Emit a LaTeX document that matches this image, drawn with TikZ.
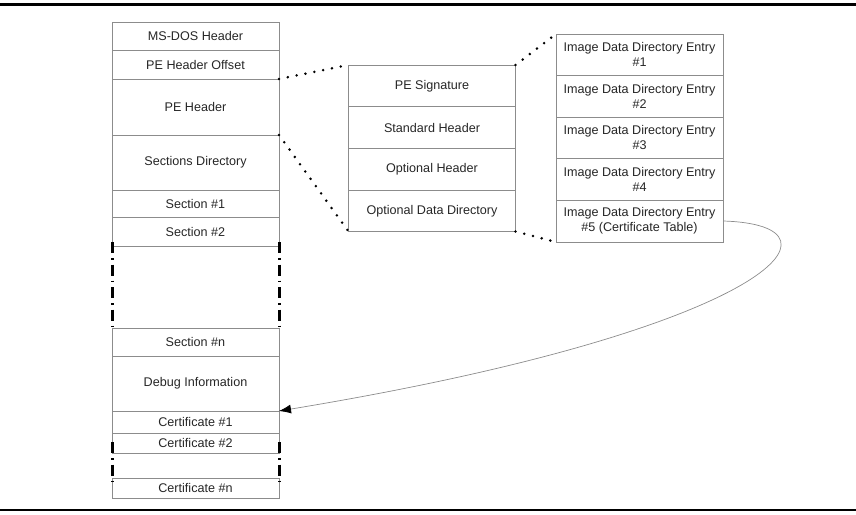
\documentclass[tikz,border=0pt]{standalone}
\usepackage{fontspec}
\setmainfont{Liberation Sans}
\usetikzlibrary{positioning, arrows.meta}
\colorlet{cell line}{black!45}
\colorlet{cell text}{black!85}
\tikzset{cell/.style={draw=cell line, line width=0.8pt, minimum width=167pt, inner sep=0pt, outer sep=0pt, align=center, text=cell text, font=\fontsize{12.6}{15}\selectfont}}
\tikzset{zoomline/.style={line width=2.8pt, line cap=round, dash pattern=on 0pt off 9pt}}
\tikzset{skipline/.style={line width=3pt, dash pattern=on 11pt off 5pt on 1.5pt off 5pt}}
\tikzset{rule/.style={line width=2.5pt}}

\begin{document}
\begin{tikzpicture}[x=1pt, y=-1pt, node distance=0pt]
\useasboundingbox (0,0) rectangle (856,514);
\draw[rule] (0,4.5) -- (856,4.5);
\draw[rule] (0,510) -- (856,510);
% file layout
\node[cell, minimum height=28pt, anchor=north] (dos) at (195.5,22) {MS-DOS Header};
\node[cell, minimum height=29pt, below=of dos] (off) {PE Header Offset};
\node[cell, minimum height=56pt, below=of off] (peh) {PE Header};
\node[cell, minimum height=55pt, below=of peh] (secdir) {Sections Directory};
\node[cell, minimum height=27pt, below=of secdir] (sec1) {Section \#1};
\node[cell, minimum height=29pt, below=of sec1] (sec2) {Section \#2};
\node[cell, draw=none, minimum height=82pt, below=of sec2] (gapa) {};
\node[cell, minimum height=28pt, below=of gapa] (secn) {Section \#n};
\node[cell, minimum height=55pt, below=of secn] (dbg) {Debug Information};
\node[cell, minimum height=22pt, below=of dbg] (cert1) {Certificate \#1};
\node[cell, minimum height=20pt, below=of cert1] (cert2) {Certificate \#2};
\node[cell, draw=none, minimum height=25pt, below=of cert2] (gapb) {};
\node[cell, minimum height=20pt, below=of gapb] (certn) {Certificate \#n};
\foreach \side in {west, east} {
    \draw[skipline] ([yshift=4pt]gapa.north \side) -- ([yshift=2pt]gapa.south \side);
    \draw[skipline] ([yshift=11pt]gapb.north \side) -- ([yshift=-4pt]gapb.south \side);
}
% PE header
\node[cell, minimum height=41.5pt, anchor=north] (sig) at (432,65) {PE Signature};
\node[cell, minimum height=42pt, below=of sig] (std) {Standard Header};
\node[cell, minimum height=42pt, below=of std] (opt) {Optional Header};
\node[cell, minimum height=41pt, below=of opt] (odd) {Optional Data Directory};
% data directory
\node[cell, minimum height=41pt, anchor=north] (ent1) at (639.5,34) {Image Data Directory Entry\\\#1};
\node[cell, minimum height=42pt, below=of ent1] (ent2) {Image Data Directory Entry\\\#2};
\node[cell, minimum height=41pt, below=of ent2] (ent3) {Image Data Directory Entry\\\#3};
\node[cell, minimum height=42pt, below=of ent3] (ent4) {Image Data Directory Entry\\\#4};
\node[cell, minimum height=42pt, below=of ent4] (ent5) {Image Data Directory Entry\\\#5 (Certificate Table)};
% zoom lines
\draw[zoomline] (peh.north east) -- (sig.north west);
\draw[zoomline] (peh.south east) -- (odd.south west);
\draw[zoomline] (sig.north east) -- (ent1.north west);
\draw[zoomline] (odd.south east) -- (ent5.south west);
\draw[cell line, line width=0.7pt, -{Latex[length=12pt, width=9pt, black]}] (ent5.east) .. controls (860,225) and (770,330) .. (cert1.north east);
\end{tikzpicture}
\end{document}
